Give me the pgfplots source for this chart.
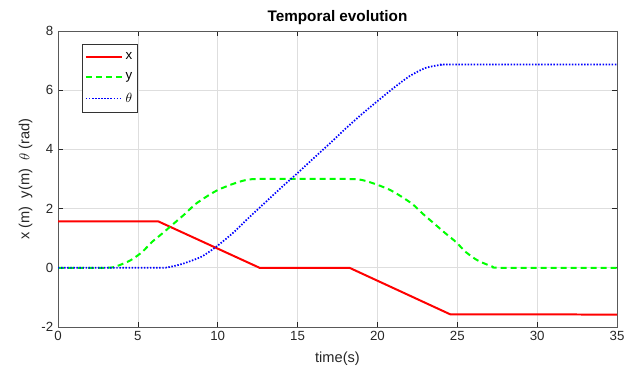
\documentclass[border=0pt]{standalone}
\usepackage{pgfplots}
\pgfplotsset{compat=1.18}
\usepackage{fontspec}
\setmainfont{Liberation Sans}
\definecolor{mred}{rgb}{1,0,0}
\definecolor{mgreen}{rgb}{0,1,0}
\definecolor{mblue}{rgb}{0,0,1}
\begin{document}
\fontsize{10}{12}\selectfont
\begin{tikzpicture}
\begin{axis}[
  scale only axis, width=419.25bp, height=222bp,
  xmin=0, xmax=35, ymin=-2, ymax=8,
  xtick={0,5,...,35}, ytick={-2,0,...,8},
  grid=major, major grid style={color=black!13, line width=0.5pt},
  axis line style={color=black!65, line width=0.5pt},
  tick style={color=black!85, line width=0.5pt}, tick align=inside, major tick length=3.5bp,
  /pgf/number format/assume math mode=true,
  ticklabel style={font=\fontsize{10}{12}\selectfont, color=black!85},
  title={Temporal evolution},
  title style={font=\fontsize{11.5}{13}\selectfont\bfseries, yshift=-5bp},
  xlabel={time(s)}, ylabel={x (m)\ \ y(m)\ \ $\theta$ (rad)},
  xlabel style={yshift=-1.5bp},
  label style={font=\fontsize{11}{13}\selectfont, color=black!85},
  legend style={at={(0.043,0.956)}, anchor=north west, draw=black!80,
    font=\fontsize{10}{12}\selectfont, inner xsep=2pt, inner ysep=4pt, row sep=4.5pt},
  legend cell align=left,
  legend image code/.code={\draw[#1] (0cm,0cm) -- (0.95cm,0cm);},
]
\addlegendimage{color=mred, line width=1.5pt}
\addlegendentry{x}
\addlegendimage{color=mgreen, line width=1.5pt, dash pattern=on 4.5bp off 3bp}
\addlegendentry{y}
\addlegendimage{color=mblue, line width=1.3pt, dash pattern=on 1.1bp off 1.2bp}
\addlegendentry{$\theta$}
\addplot[color=mred, line width=1.5pt, forget plot] coordinates {
 (0,1.57) (6.27,1.57) (12.62,0) (18.25,0) (24.55,-1.57) (35,-1.58)
};
\addplot[color=mgreen, line width=1.5pt, dash pattern=on 4.5bp off 3bp, smooth, tension=0.4, forget plot] coordinates {
 (0,0) (3.0,0) (3.6,0.04) (4.53,0.25) (5.26,0.53) (5.88,0.87) (6.51,1.15) (7.24,1.49)
 (7.97,1.83) (8.6,2.15) (9.43,2.45) (10.05,2.64) (10.88,2.82) (11.72,2.96) (12.6,3.0)
 (18.2,3.0) (19.08,2.96) (19.92,2.82) (20.75,2.64) (21.37,2.45) (22.2,2.15) (22.83,1.83)
 (23.56,1.49) (24.29,1.15) (24.92,0.87) (25.54,0.53) (26.27,0.25) (27.2,0.04) (27.8,0) (35,0)
};
\addplot[color=mblue, line width=1.3pt, dash pattern=on 1.1bp off 1.2bp, smooth, tension=0.4, forget plot] coordinates {
 (0,0) (6.3,0) (7,0.03) (7.83,0.14) (9,0.38) (10,0.75) (11,1.2) (12,1.72) (13,2.22)
 (14,2.72) (15,3.2) (16,3.7) (17,4.19) (18,4.7) (19,5.18) (20,5.63) (21,6.07) (22,6.47)
 (23,6.75) (24,6.86) (24.6,6.87) (35,6.87)
};
\end{axis}
\pgfresetboundingbox
\path[use as bounding box] (-43.5bp,-40.5bp) rectangle (432.75bp,245.25bp);
\end{tikzpicture}
\end{document}
